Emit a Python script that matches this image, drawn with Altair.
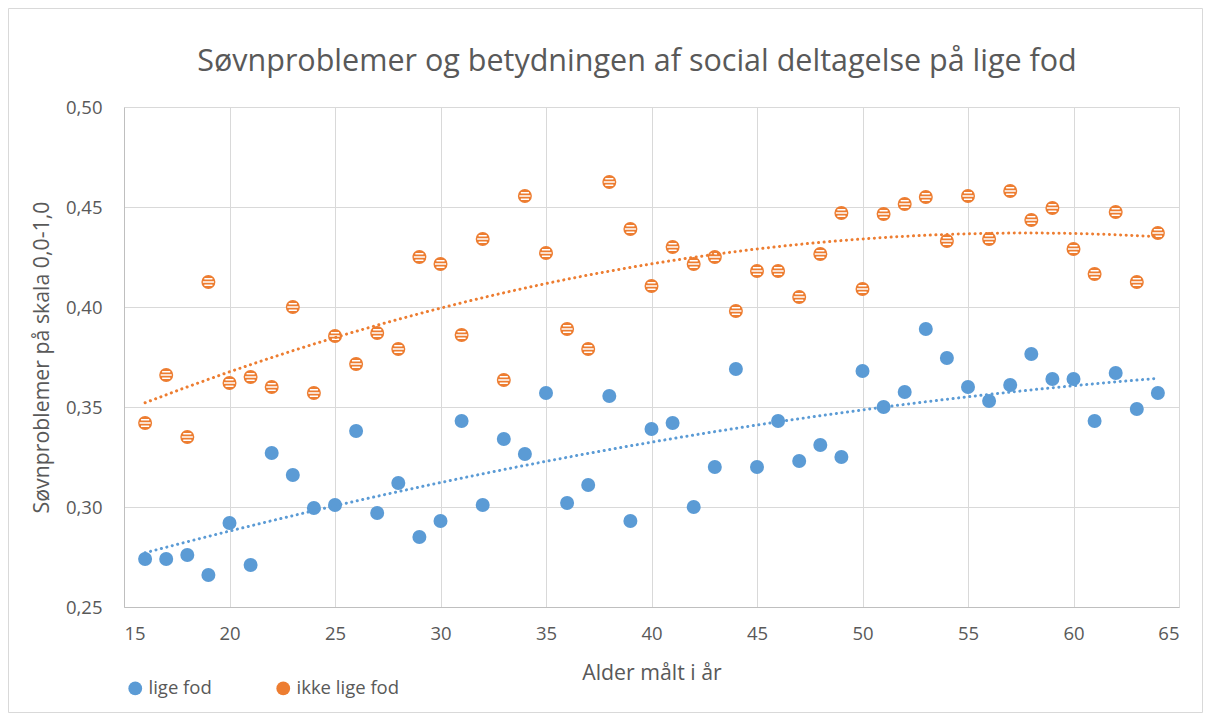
import altair as alt
import pandas as pd

ages = list(range(16, 65))

lige_fod = [0.274, 0.274, 0.276, 0.266, 0.292, 0.271, 0.327, 0.316, 0.2995, 0.301,
            0.338, 0.297, 0.312, 0.285, 0.293, 0.343, 0.301, 0.334, 0.3265, 0.357,
            0.302, 0.311, 0.3555, 0.293, 0.339, 0.342, 0.300, 0.320, 0.369, 0.320,
            0.343, 0.323, 0.331, 0.325, 0.368, 0.350, 0.3575, 0.389, 0.3745, 0.360,
            0.353, 0.361, 0.3765, 0.364, 0.364, 0.343, 0.367, 0.349, 0.357]

ikke_lige_fod = [0.342, 0.366, 0.335, 0.4125, 0.362, 0.365, 0.360, 0.400, 0.357, 0.3855,
                 0.3715, 0.387, 0.379, 0.425, 0.4215, 0.386, 0.434, 0.3635, 0.4555, 0.427,
                 0.389, 0.379, 0.4625, 0.439, 0.4105, 0.430, 0.4215, 0.425, 0.398, 0.418,
                 0.418, 0.405, 0.4265, 0.447, 0.409, 0.4465, 0.4515, 0.455, 0.433, 0.4555,
                 0.434, 0.458, 0.4435, 0.4495, 0.429, 0.4165, 0.4475, 0.4125, 0.437]

series_names = ["lige fod", "ikke lige fod"]
series_colors = ["#5B9BD5", "#ED7D31"]
x_ticks = [15, 20, 25, 30, 35, 40, 45, 50, 55, 60, 65]
y_ticks = [0.25, 0.30, 0.35, 0.40, 0.45, 0.50]
title_text = ["Søvnproblemer og betydningen af social deltagelse på lige fod"]

df = pd.DataFrame({
    "age": ages * 2,
    "value": lige_fod + ikke_lige_fod,
    "series": [series_names[0]] * len(ages) + [series_names[1]] * len(ages),
})

FONT = "Open Sans"
TXT = "#595959"
W, H = 1055, 500
PL, PT, PR, PB = 116, 99, 24, 106

color_scale = alt.Scale(domain=series_names, range=series_colors)

x_enc = alt.X("age:Q", scale=alt.Scale(domain=[15, 65], nice=False),
              axis=alt.Axis(values=x_ticks, title="Alder målt i år",
                            titleX=W / 2, titleY=66, titleBaseline="middle",
                            labelPadding=17))
y_enc = alt.Y("value:Q", scale=alt.Scale(domain=[0.25, 0.50], nice=False, zero=False),
              axis=alt.Axis(values=y_ticks, title="Søvnproblemer på skala 0,0-1,0",
                            labelExpr="replace(format(datum.value, '.2f'), '.', ',')",
                            titleX=-82, titleY=H / 2, titleAngle=270,
                            titleBaseline="middle", titleAlign="center",
                            labelPadding=22))

base = alt.Chart(df)

points = base.mark_point(filled=True, size=196, shape="circle", opacity=1).encode(
    x=x_enc, y=y_enc,
    color=alt.Color("series:N", scale=color_scale, sort=series_names,
                    legend=alt.Legend(title=None, orient="none", legendX=2, legendY=572,
                                      direction="horizontal", symbolType="circle",
                                      symbolSize=190, labelFontSize=18.5, labelFont=FONT,
                                      labelColor=TXT, columnPadding=62, labelOffset=4,
                                      padding=0, symbolStrokeWidth=0)),
    order=alt.Order("series_order:Q"),
).transform_calculate(series_order="datum.series == 'lige fod' ? 0 : 1")

stripe_path = ("M-0.58,-0.56L0.58,-0.56L0.58,-0.36L-0.58,-0.36Z "
               "M-0.79,-0.1L0.79,-0.1L0.79,0.1L-0.79,0.1Z "
               "M-0.58,0.36L0.58,0.36L0.58,0.56L-0.58,0.56Z")

stripes = base.transform_filter(alt.datum.series == series_names[1]).mark_point(
    filled=True, size=196, shape=stripe_path, color="white", opacity=1
).encode(x="age:Q", y="value:Q")

trend = base.transform_regression(
    "age", "value", method="poly", order=2, groupby=["series"]
).mark_line(strokeDash=[0.1, 5.5], strokeCap="round", strokeWidth=3).encode(
    x="age:Q", y="value:Q",
    color=alt.Color("series:N", scale=color_scale, legend=None),
)

frame = alt.Chart(pd.DataFrame({"a": [0]})).mark_rect(
    fillOpacity=0, stroke="#d9d9d9", strokeWidth=1
).encode(
    x=alt.value(-PL + 0.5), x2=alt.value(W + PR - 0.5),
    y=alt.value(-PT + 0.5), y2=alt.value(H + PB - 0.5),
)

title = alt.Chart(pd.DataFrame({"t": title_text})).mark_text(
    font=FONT, fontSize=30.5, color=TXT, align="center", baseline="alphabetic"
).encode(text="t:N", x=alt.value(513), y=alt.value(-36))

chart = alt.layer(frame, title, points, stripes, trend).properties(
    width=W, height=H,
    autosize=alt.AutoSizeParams(type="none"),
    padding={"left": PL, "top": PT, "right": PR, "bottom": PB},
).configure_view(stroke=None).configure_axis(
    labelFont=FONT, labelFontSize=18.5, labelColor=TXT,
    titleFont=FONT, titleFontSize=21.3, titleColor=TXT, titleFontWeight="normal",
    gridColor="#d9d9d9", gridWidth=1, domainColor="#bfbfbf", domainWidth=1,
    ticks=False,
)

chart.save("out.html", embed_options={"renderer": "svg", "actions": False})
